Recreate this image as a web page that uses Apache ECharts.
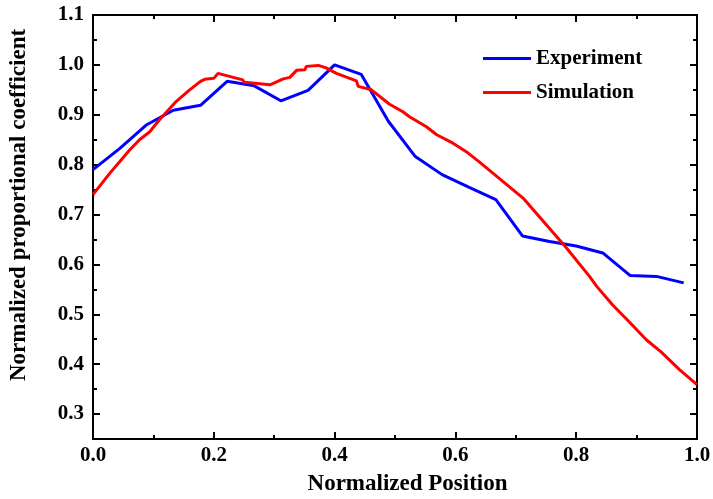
<!DOCTYPE html>
<html>
<head>
<meta charset="utf-8">
<script src="https://cdn.jsdelivr.net/npm/echarts@6/dist/echarts.min.js"></script>
<style>html,body{margin:0;padding:0;background:#fff;}#c{width:713px;height:499px;}</style>
</head>
<body>
<div id="c"></div>
<script>
const expX = [0, 0.044, 0.089, 0.133, 0.178, 0.222, 0.267, 0.311, 0.356, 0.4, 0.444, 0.489, 0.533, 0.578, 0.622, 0.667, 0.711, 0.756, 0.8, 0.844, 0.889, 0.933, 0.978];
const expY = [0.790, 0.832, 0.880, 0.909, 0.919, 0.967, 0.958, 0.928, 0.949, 1.000, 0.981, 0.887, 0.817, 0.780, 0.755, 0.730, 0.657, 0.646, 0.637, 0.623, 0.578, 0.576, 0.563];
const simX = [0, 0.028, 0.061, 0.077, 0.094, 0.110, 0.138, 0.160, 0.178, 0.185, 0.200, 0.207, 0.248, 0.250, 0.268, 0.293, 0.315, 0.326, 0.337, 0.351, 0.353, 0.373, 0.386, 0.403, 0.436, 0.439, 0.461, 0.491, 0.513, 0.524, 0.552, 0.569, 0.596, 0.618, 0.640, 0.662, 0.712, 0.748, 0.784, 0.822, 0.834, 0.860, 0.890, 0.916, 0.940, 0.971, 1.0];
const simY = [0.740, 0.783, 0.830, 0.850, 0.866, 0.890, 0.927, 0.950, 0.967, 0.971, 0.973, 0.983, 0.970, 0.965, 0.963, 0.960, 0.972, 0.975, 0.989, 0.990, 0.997, 0.999, 0.994, 0.983, 0.968, 0.957, 0.950, 0.921, 0.906, 0.896, 0.876, 0.860, 0.843, 0.826, 0.805, 0.783, 0.733, 0.683, 0.633, 0.576, 0.556, 0.519, 0.482, 0.449, 0.425, 0.389, 0.359];
const yMajor = [0.3, 0.4, 0.5, 0.6, 0.7, 0.8, 0.9, 1.0, 1.1];
const yMinor = [0.35, 0.45, 0.55, 0.65, 0.75, 0.85, 0.95, 1.05];
const seriesNames = ['Experiment', 'Simulation'];

const FONT = 'Liberation Serif';
const chart = echarts.init(document.getElementById('c'));
const lineAx = {show: true, lineStyle: {color: '#000', width: 2}};
function yAx(pos, ticks, len, labels, extra) {
  return Object.assign({
    type: 'value', position: pos, min: 0.25, max: 1.1,
    axisLine: lineAx,
    splitLine: {show: false},
    axisTick: {show: true, inside: true, length: len, customValues: ticks, lineStyle: {color: '#000', width: 2}},
    axisLabel: labels ? {show: true, customValues: yMajor, formatter: v => v.toFixed(1), fontFamily: FONT, fontWeight: 'bold', fontSize: 21, color: '#000', margin: 9} : {show: false}
  }, extra || {});
}
function xAx(pos, labels, extra) {
  return Object.assign({
    type: 'value', position: pos, min: 0, max: 1, interval: 0.2,
    axisLine: lineAx,
    splitLine: {show: false},
    axisTick: {show: true, inside: true, length: 7, lineStyle: {color: '#000', width: 2}},
    minorTick: {show: true, splitNumber: 2, length: 4, lineStyle: {color: '#000', width: 2}},
    minorSplitLine: {show: false},
    axisLabel: labels ? {show: true, formatter: v => v.toFixed(1), fontFamily: FONT, fontWeight: 'bold', fontSize: 21, color: '#000', margin: 6} : {show: false}
  }, extra || {});
}
chart.setOption({
  animation: false,
  backgroundColor: '#fff',
  grid: {left: 93, right: 16, top: 15, bottom: 60, containLabel: false, outerBoundsMode: 'none'},
  legend: {
    orient: 'vertical', left: 478, top: 43, itemWidth: 48, itemHeight: 3, itemGap: 13,
    icon: 'rect',
    data: seriesNames,
    textStyle: {fontFamily: FONT, fontWeight: 'bold', fontSize: 21, color: '#000', lineHeight: 21}
  },
  xAxis: [
    xAx('bottom', true, {name: 'Normalized Position', nameLocation: 'middle', nameGap: 34,
      nameTextStyle: {fontFamily: FONT, fontWeight: 'bold', fontSize: 23, color: '#000', padding: [0, 0, 0, 25]}}),
    xAx('top', false)
  ],
  yAxis: [
    yAx('left', yMajor, 7, true, {name: 'Normalized proportional coefficient', nameLocation: 'middle', nameGap: 62,
      nameTextStyle: {fontFamily: FONT, fontWeight: 'bold', fontSize: 23, color: '#000', padding: [0, 0, 0, 44]}}),
    yAx('left', yMinor, 4, false),
    yAx('right', yMajor, 7, false),
    yAx('right', yMinor, 4, false)
  ],
  series: [
    {name: seriesNames[0], type: 'line', xAxisIndex: 0, yAxisIndex: 0, showSymbol: false, symbol: 'none',
      lineStyle: {color: '#0000FF', width: 3}, itemStyle: {color: '#0000FF'},
      data: expX.map((x, i) => [x, expY[i]])},
    {name: seriesNames[1], type: 'line', xAxisIndex: 0, yAxisIndex: 0, showSymbol: false, symbol: 'none',
      lineStyle: {color: '#FF0000', width: 3}, itemStyle: {color: '#FF0000'},
      data: simX.map((x, i) => [x, simY[i]])}
  ]
});
</script>
</body>
</html>
